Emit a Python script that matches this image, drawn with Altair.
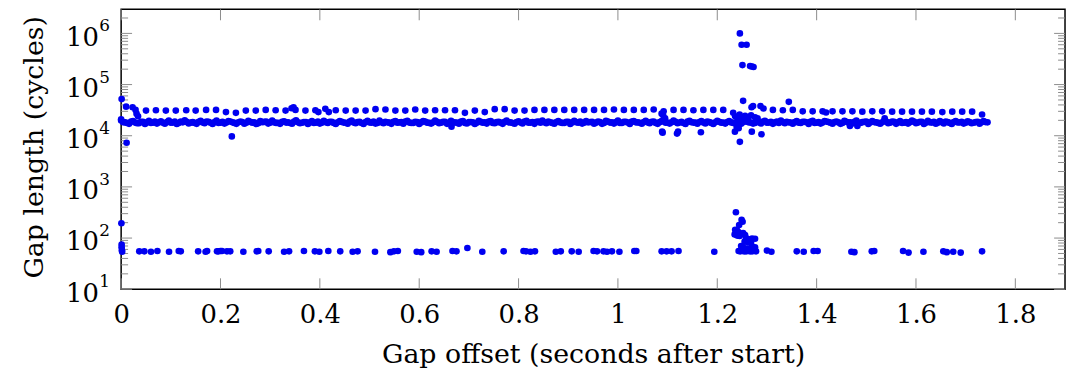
import altair as alt
import pandas as pd

FONT = "DejaVu Serif"
BLUE = "#0000f0"
TICK = "#8c8c8c"

# ---- main dense band (~1.8e4 cycles) ----
band_x = [
    0.000, 0.008, 0.016, 0.024, 0.032, 0.040, 0.048, 0.056, 0.064, 0.072,
    0.080, 0.088, 0.096, 0.104, 0.112, 0.120, 0.128, 0.136, 0.144, 0.152,
    0.160, 0.168, 0.176, 0.184, 0.192, 0.200, 0.208, 0.216, 0.224, 0.232,
    0.240, 0.248, 0.256, 0.264, 0.272, 0.280, 0.288, 0.296, 0.304, 0.312,
    0.320, 0.328, 0.336, 0.344, 0.352, 0.360, 0.368, 0.376, 0.384, 0.392,
    0.400, 0.408, 0.416, 0.424, 0.432, 0.440, 0.448, 0.456, 0.464, 0.472,
    0.480, 0.488, 0.496, 0.504, 0.512, 0.520, 0.528, 0.536, 0.544, 0.552,
    0.560, 0.568, 0.576, 0.584, 0.592, 0.600, 0.608, 0.616, 0.624, 0.632,
    0.640, 0.648, 0.656, 0.664, 0.672, 0.680, 0.688, 0.696, 0.704, 0.712,
    0.720, 0.728, 0.736, 0.744, 0.752, 0.760, 0.768, 0.776, 0.784, 0.792,
    0.800, 0.808, 0.816, 0.824, 0.832, 0.840, 0.848, 0.856, 0.864, 0.872,
    0.880, 0.888, 0.896, 0.904, 0.912, 0.920, 0.928, 0.936, 0.944, 0.952,
    0.960, 0.968, 0.976, 0.984, 0.992, 1.000, 1.008, 1.016, 1.024, 1.032,
    1.040, 1.048, 1.056, 1.064, 1.072, 1.080, 1.088, 1.096, 1.104, 1.112,
    1.120, 1.128, 1.136, 1.144, 1.152, 1.160, 1.168, 1.176, 1.184, 1.192,
    1.200, 1.208, 1.216, 1.224, 1.232, 1.240, 1.248, 1.256, 1.264, 1.272,
    1.280, 1.288, 1.296, 1.304, 1.312, 1.320, 1.328, 1.336, 1.344, 1.352,
    1.360, 1.368, 1.376, 1.384, 1.392, 1.400, 1.408, 1.416, 1.424, 1.432,
    1.440, 1.448, 1.456, 1.464, 1.472, 1.480, 1.488, 1.496, 1.504, 1.512,
    1.520, 1.528, 1.536, 1.544, 1.552, 1.560, 1.568, 1.576, 1.584, 1.592,
    1.600, 1.608, 1.616, 1.624, 1.632, 1.640, 1.648, 1.656, 1.664, 1.672,
    1.680, 1.688, 1.696, 1.704, 1.712, 1.720, 1.728, 1.736, 1.744,
]
band_y = [
    19800, 18200, 17100, 19300, 17600, 18700, 17000, 19600, 18000, 17300,
    19200, 17200, 19700, 18100, 17000, 18900, 19900, 17400, 18500, 17100,
    19500, 17600, 18700, 17000, 19800, 18000, 17300, 19400, 18300, 17100,
    18900, 17200, 19600, 18000, 17000, 19300, 18600, 17300, 19700, 17800,
    17100, 19200, 18200, 17200, 19900, 17600, 18500, 17000, 19400, 18000,
    17300, 19600, 17800, 18600, 17000, 19300, 18100, 17200, 19700, 17600,
    18700, 17000, 19500, 18000, 17300, 19800, 17600, 18300, 17100, 19300,
    18200, 17200, 19600, 17800, 18700, 17000, 19400, 18000, 17300, 19700,
    17600, 18600, 17100, 19500, 18100, 17200, 19300, 17400, 18500, 17000,
    19600, 18000, 17300, 19400, 17600, 18600, 17100, 19700, 18200, 17200,
    19200, 17400, 19600, 18100, 17100, 18800, 19800, 17600, 18300, 17200,
    19400, 17800, 18700, 17000, 19600, 18000, 17300, 19300, 18500, 17200,
    18900, 17100, 19500, 18100, 17300, 19700, 17800, 18600, 17000, 19300,
    18200, 17200, 19600, 17600, 18800, 17100, 19400, 18000, 17300, 19700,
    17600, 18700, 17000, 19500, 18100, 17200, 19300, 17400, 18500, 17000,
    19600, 18000, 17300, 19400, 17800, 18600, 17100, 19700, 18200, 17300,
    19200, 17400, 19600, 18100, 17100, 18800, 19800, 17600, 18300, 17200,
    19400, 17800, 18700, 17000, 19600, 18000, 17300, 19300, 18500, 17200,
    18900, 17100, 19500, 18100, 17300, 19700, 17800, 18600, 17000, 19300,
    18200, 17200, 19600, 17600, 18800, 17100, 19400, 18000, 17300, 19700,
    17600, 18700, 17000, 19500, 18100, 17200, 19300, 17400, 18500, 17000,
    19300, 18200, 17300, 19200, 17600, 18500, 17200, 19400, 18300,
]

# ---- in-between band gaps (~1.8e4 cycles) ----
band2_x = [
    0.004, 0.012, 0.020, 0.028, 0.036, 0.044, 0.052, 0.060, 0.068, 0.076,
    0.084, 0.092, 0.100, 0.108, 0.116, 0.124, 0.132, 0.140, 0.148, 0.156,
    0.164, 0.172, 0.180, 0.188, 0.196, 0.204, 0.212, 0.220, 0.228, 0.236,
    0.244, 0.252, 0.260, 0.268, 0.276, 0.284, 0.292, 0.300, 0.308, 0.316,
    0.324, 0.332, 0.340, 0.348, 0.356, 0.364, 0.372, 0.380, 0.388, 0.396,
    0.404, 0.412, 0.420, 0.428, 0.436, 0.444, 0.452, 0.460, 0.468, 0.476,
    0.484, 0.492, 0.500, 0.508, 0.516, 0.524, 0.532, 0.540, 0.548, 0.556,
    0.564, 0.572, 0.580, 0.588, 0.596, 0.604, 0.612, 0.620, 0.628, 0.636,
    0.644, 0.652, 0.660, 0.668, 0.676, 0.684, 0.692, 0.700, 0.708, 0.716,
    0.724, 0.732, 0.740, 0.748, 0.756, 0.764, 0.772, 0.780, 0.788, 0.796,
    0.804, 0.812, 0.820, 0.828, 0.836, 0.844, 0.852, 0.860, 0.868, 0.876,
    0.884, 0.892, 0.900, 0.908, 0.916, 0.924, 0.932, 0.940, 0.948, 0.956,
    0.964, 0.972, 0.980, 0.988, 0.996, 1.004, 1.012, 1.020, 1.028, 1.036,
    1.044, 1.052, 1.060, 1.068, 1.076, 1.084, 1.092, 1.100, 1.108, 1.116,
    1.124, 1.132, 1.140, 1.148, 1.156, 1.164, 1.172, 1.180, 1.188, 1.196,
    1.204, 1.212, 1.220, 1.228, 1.236, 1.244, 1.252, 1.260, 1.268, 1.276,
    1.284, 1.292, 1.300, 1.308, 1.316, 1.324, 1.332, 1.340, 1.348, 1.356,
    1.364, 1.372, 1.380, 1.388, 1.396, 1.404, 1.412, 1.420, 1.428, 1.436,
    1.444, 1.452, 1.460, 1.468, 1.476, 1.484, 1.492, 1.500, 1.508, 1.516,
    1.524, 1.532, 1.540, 1.548, 1.556, 1.564, 1.572, 1.580, 1.588, 1.596,
    1.604, 1.612, 1.620, 1.628, 1.636, 1.644, 1.652, 1.660, 1.668, 1.676,
    1.684, 1.692, 1.700, 1.708, 1.716, 1.724, 1.732, 1.740,
]
band2_y = [
    18400, 17700, 18900, 18100, 17600, 18600, 18200, 17800, 18800, 18300,
    17900, 18500, 18000, 18900, 17700, 18300, 18600, 18000, 17800, 18700,
    18200, 18800, 17900, 18400, 17700, 18600, 18100, 18900, 17800, 18300,
    18500, 17900, 18700, 18200, 17600, 18400, 18900, 18000, 18300, 17800,
    18600, 18100, 17700, 18800, 18300, 17900, 18500, 18200, 17700, 18900,
    18000, 18400, 18700, 17800, 18300, 18600, 17900, 18800, 18100, 18400,
    17700, 18500, 18200, 18900, 17800, 18300, 18600, 18000, 18700, 17900,
    18400, 18800, 18100, 17700, 18500, 18200, 18900, 17800, 18300, 18600,
    18000, 18700, 17900, 18400, 18100, 18800, 17700, 18500, 18300, 17900,
    18600, 18200, 18900, 17800, 18400, 18000, 18700, 18300, 17700, 18500,
    18100, 18800, 17900, 18400, 18600, 18000, 18300, 18900, 17800, 18500,
    18200, 17700, 18700, 18100, 18400, 18800, 17900, 18300, 18600, 18000,
    18500, 17800, 18900, 18200, 18400, 17700, 18600, 18100, 18800, 18300,
    17900, 18500, 18200, 18700, 17800, 18400, 18900, 18000, 18300, 18600,
    18100, 17700, 18800, 18400, 18000, 18500, 18200, 18900, 17800, 18300,
    18700, 18000, 18500, 18200, 17900, 18600, 18400, 18800, 18100, 17700,
    18300, 18900, 18000, 18600, 18200, 17800, 18500, 18700, 18100, 18400,
    17900, 18600, 18300, 18800, 17700, 18400, 18100, 18900, 18000, 18500,
    18200, 17800, 18700, 18300, 18600, 17900, 18400, 18800, 18100, 18500,
    17800, 18300, 18900, 18000, 18600, 18200, 17700, 18500, 18400, 18800,
    18100, 18600, 17900, 18300, 18700, 18000, 18400, 18900, 17800, 18500,
    18200, 18600, 18000, 18400, 17900, 18700, 18300, 18500,
]

# ---- upper row (~3e4 cycles) ----
upper_x = [
    0.050, 0.070, 0.090, 0.110, 0.131, 0.150, 0.171, 0.191, 0.211, 0.231,
    0.251, 0.271, 0.291, 0.311, 0.331, 0.343, 0.347, 0.351, 0.371, 0.391,
    0.397, 0.411, 0.418,
    0.432, 0.452, 0.472, 0.492, 0.512, 0.532, 0.552, 0.572, 0.592, 0.612,
    0.632, 0.652, 0.672, 0.692, 0.712, 0.732, 0.752, 0.772, 0.792, 0.812,
    0.832, 0.852, 0.872, 0.892, 0.912, 0.932, 0.952, 0.972, 0.992, 1.012,
    1.032, 1.052, 1.072, 1.092, 1.112, 1.132, 1.152, 1.172, 1.192, 1.212,
    1.312, 1.332, 1.344, 1.352, 1.372, 1.392, 1.412, 1.419,
    1.432, 1.452, 1.472, 1.492, 1.512, 1.532, 1.552, 1.572, 1.592, 1.612, 1.632,
    1.653, 1.673, 1.693, 1.713, 1.733,
]
upper_y = [
    31000, 31500, 31000, 31000, 31500, 31000, 32000, 32000, 29000, 28000,
    31000, 31000, 32000, 31500, 31000, 34500, 36000, 32000, 31000, 31500,
    29000, 33500, 29000,
    31500, 31000, 31000, 31000, 33000, 32500, 31000, 31000, 32500, 31000,
    31500, 31500, 31500, 28000, 31000, 29000, 33000, 33000, 31000, 31000,
    32000, 32000, 32000, 32000, 32000, 32000, 32000, 32000, 32500, 32000,
    32000, 32000, 32500, 30000, 32000, 32000, 31500, 32000, 32000, 32000,
    32000, 31500, 46000, 32000, 30000, 30000, 30000, 28500,
    30000, 30000, 30000, 29500, 30000, 30000, 29500, 29500, 29500, 29500, 29500,
    29000, 29500, 29500, 29500, 26000,
]

# ---- lower row (~55 cycles) ----
low_x = [
    0.0005, 0.001, 0.001, 0.0015, 0.002,
    0.0365, 0.0467, 0.060, 0.073, 0.0964, 0.116, 0.120, 0.155, 0.170, 0.173,
    0.193, 0.196, 0.200, 0.203, 0.213, 0.2196, 0.246, 0.273, 0.276, 0.297,
    0.328, 0.338, 0.368, 0.390, 0.399, 0.417, 0.441, 0.466, 0.476, 0.511,
    0.542, 0.549, 0.557, 0.595, 0.604, 0.625, 0.635, 0.667, 0.675, 0.697,
    0.727, 0.770, 0.810, 0.815, 0.824, 0.833, 0.875, 0.885, 0.907, 0.921,
    0.951, 0.958, 0.971, 0.978, 0.988, 1.003, 1.033, 1.037, 1.088, 1.098,
    1.108, 1.122, 1.194, 1.300, 1.309, 1.360, 1.374, 1.394, 1.402, 1.470,
    1.476, 1.511, 1.516, 1.574, 1.585, 1.615, 1.655, 1.662, 1.675, 1.690,
    1.733,
]
low_y = [
    195, 75, 66, 58, 54,
    55, 55, 54, 56, 54, 56, 55, 55, 54, 56,
    55, 55, 56, 56, 55, 55, 54, 55, 56, 55,
    54, 55, 56, 55, 54, 56, 55, 54, 55, 54,
    53, 55, 56, 54, 53, 55, 54, 56, 55, 64,
    54, 55, 56, 55, 54, 55, 54, 55, 55, 54,
    56, 55, 55, 54, 55, 54, 56, 56, 55, 55,
    55, 56, 54, 57, 54, 55, 54, 56, 56, 54,
    53, 55, 56, 56, 52, 54, 55, 53, 54, 52,
    55,
]

# ---- burst around 1.25 s, lower part ----
cluster_x = [
    1.2375, 1.249, 1.251, 1.244, 1.236, 1.240, 1.243, 1.246, 1.235, 1.240,
    1.245, 1.252, 1.256, 1.258, 1.264, 1.270, 1.276, 1.255, 1.262, 1.268,
    1.248, 1.252, 1.260, 1.270, 1.276, 1.243, 1.246, 1.250, 1.254, 1.258,
    1.262, 1.266, 1.270, 1.274, 1.278,
]
cluster_y = [
    320, 226, 208, 180, 145, 140, 130, 120, 118, 112,
    110, 125, 115, 100, 95, 98, 97, 85, 82, 80,
    70, 66, 62, 68, 66, 56, 55, 56, 55, 55,
    56, 55, 55, 56, 55,
]

# ---- outliers and spread points ----
extra_x = [
    0.001, 0.000, 0.010, 0.023, 0.029, 0.031, 0.034, 0.011, 0.2228, 0.665,
    1.088, 1.091, 1.095, 1.089, 1.090, 1.121, 1.119, 1.167,
    1.2455, 1.249, 1.259, 1.2507, 1.266, 1.273, 1.270,
    1.252, 1.269, 1.272, 1.287, 1.293, 1.232,
    1.236, 1.241, 1.245, 1.250, 1.256, 1.262, 1.268, 1.276, 1.281,
    1.2355, 1.239, 1.2455, 1.2695, 1.289, 1.243,
    1.467, 1.482, 1.537,
]
extra_y = [
    52000, 21000, 37000, 36000, 32000, 27000, 24000, 7300, 9700, 15000,
    27000, 25000, 22000, 12000, 11500, 12000, 11000, 11700,
    1000000, 600000, 600000, 240000, 230000, 220000, 225000,
    48000, 36000, 38000, 38000, 34000, 28000,
    24000, 22000, 26000, 23000, 24500, 22000, 25000, 23000, 22000,
    12000, 15000, 7600, 12000, 10700, 14000,
    15500, 15500, 22000,
]

# ---- axis ticks ----
x_ticks = [0, 0.2, 0.4, 0.6, 0.8, 1.0, 1.2, 1.4, 1.6, 1.8]
y_major = [10, 100, 1000, 10000, 100000, 1000000]
y_exponents = ["1", "2", "3", "4", "5", "6"]
y_minor = [
    20, 30, 40, 50, 60, 70, 80, 90,
    200, 300, 400, 500, 600, 700, 800, 900,
    2000, 3000, 4000, 5000, 6000, 7000, 8000, 9000,
    20000, 30000, 40000, 50000, 60000, 70000, 80000, 90000,
    200000, 300000, 400000, 500000, 600000, 700000, 800000, 900000,
    2000000,
]

assert len(band_x) == len(band_y)
assert len(band2_x) == len(band2_y)
assert len(upper_x) == len(upper_y)
assert len(low_x) == len(low_y)
assert len(cluster_x) == len(cluster_y)
assert len(extra_x) == len(extra_y)

W, H = 951, 282
xs = alt.Scale(domain=[0, 1.9], nice=False, zero=False)
ys = alt.Scale(type="log", domain=[10, 2950000], nice=False)

pts = pd.DataFrame({
    "x": band_x + band2_x + upper_x + low_x + cluster_x + extra_x,
    "y": band_y + band2_y + upper_y + low_y + cluster_y + extra_y,
})

x_axis = alt.Axis(
    values=x_ticks, format="~g", ticks=False, domain=False, grid=False,
    labelFlush=False, labelOverlap=False,
    labelFont=FONT, labelFontSize=26, labelColor="black", labelPadding=13,
    title="Gap offset (seconds after start)", titleFont=FONT, titleFontSize=27,
    titleFontWeight="normal", titleColor="black", titleY=74,
    titleBaseline="alphabetic")
y_axis = alt.Axis(
    values=y_major, labelExpr="'10'", ticks=False, domain=False, grid=False,
    labelFlush=False, labelOverlap=False,
    labelFont=FONT, labelFontSize=26, labelColor="black", labelPadding=23,
    labelOffset=4,
    title="Gap length (cycles)", titleFont=FONT, titleFontSize=27,
    titleFontWeight="normal", titleColor="black", titleX=-79, titleY=138.5,
    titleBaseline="alphabetic", titleAlign="center")

points = alt.Chart(pts).mark_circle(size=45, color=BLUE, opacity=1).encode(
    x=alt.X("x:Q", scale=xs, axis=x_axis),
    y=alt.Y("y:Q", scale=ys, axis=y_axis),
)

xt = pd.DataFrame({"x": x_ticks})
ymaj = pd.DataFrame({"y": y_major, "e": y_exponents})
ymin = pd.DataFrame({"y": y_minor})

def xrule(y0, y1):
    return alt.Chart(xt).mark_rule(color=TICK, strokeWidth=1).encode(
        x=alt.X("x:Q", scale=xs, axis=x_axis),
        y=alt.value(y0), y2=alt.value(y1))

def yrule(df, x0, x1):
    return alt.Chart(df).mark_rule(color=TICK, strokeWidth=1).encode(
        y=alt.Y("y:Q", scale=ys, axis=y_axis),
        x=alt.value(x0), x2=alt.value(x1))

exps = alt.Chart(ymaj).mark_text(
    align="left", baseline="alphabetic", font=FONT, fontSize=17,
    color="black", dy=-2).encode(
    y=alt.Y("y:Q", scale=ys, axis=y_axis),
    x=alt.value(-22),
    text="e:N")

chart = alt.layer(
    xrule(H, H - 11), xrule(0, 11),
    yrule(ymaj, 0, 11), yrule(ymaj, W, W - 11),
    yrule(ymin, 0, 7), yrule(ymin, W, W - 7),
    points,
    exps,
).properties(
    width=W, height=H,
    autosize=alt.AutoSizeParams(type="none"),
    padding={"left": 114, "top": 0, "right": 2, "bottom": 79},
).configure(background="white").configure_view(stroke="black", strokeWidth=1.5)

chart.save("out.html", embed_options={"renderer": "svg", "actions": False})
